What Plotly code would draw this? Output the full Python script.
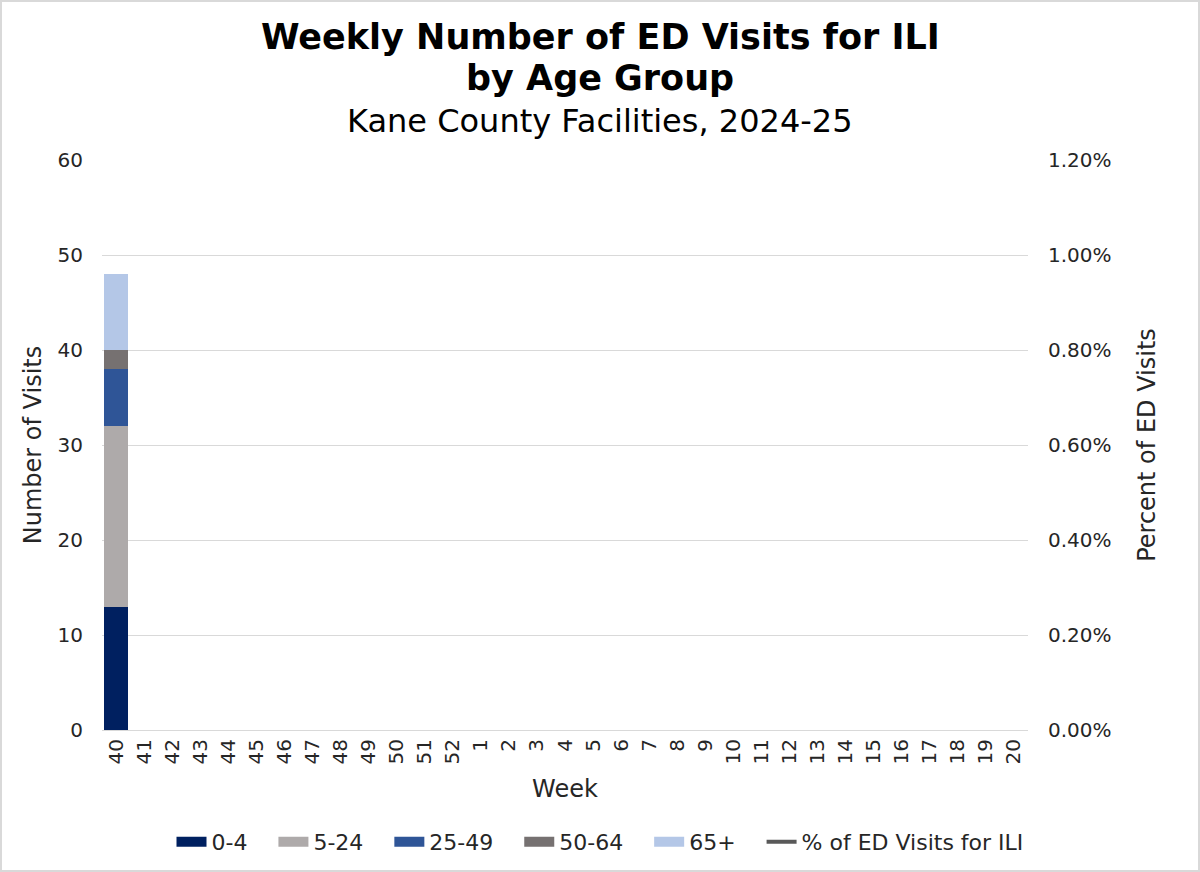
import plotly.graph_objects as go

weeks = ["40", "41", "42", "43", "44", "45", "46", "47", "48", "49", "50", "51", "52",
         "1", "2", "3", "4", "5", "6", "7", "8", "9", "10", "11", "12", "13", "14",
         "15", "16", "17", "18", "19", "20"]
n = len(weeks)
age_0_4 = [13] + [None] * (n - 1)
age_5_24 = [19] + [None] * (n - 1)
age_25_49 = [6] + [None] * (n - 1)
age_50_64 = [2] + [None] * (n - 1)
age_65p = [8] + [None] * (n - 1)
pct_ili = [0.0055] + [None] * (n - 1)

series = [
    ("0-4", age_0_4, "#002060"),
    ("5-24", age_5_24, "#AEAAAA"),
    ("25-49", age_25_49, "#2F5597"),
    ("50-64", age_50_64, "#767171"),
    ("65+", age_65p, "#B4C7E7"),
]

FONT = "DejaVu Sans"
PAD = "\u00a0" * 3
fig = go.Figure()
for name, vals, color in series:
    fig.add_trace(go.Bar(x=weeks, y=vals, name=name, marker_color=color,
                         marker_line_width=0, legendgroup=name, showlegend=False))
    # legend-only swatch drawn as a thick line so it is a wide rectangle
    fig.add_trace(go.Scatter(x=[None], y=[None], name=name + PAD, mode="lines",
                             line=dict(color=color, width=12),
                             legendgroup=name, showlegend=True))
fig.add_trace(go.Scatter(x=weeks, y=pct_ili, name="% of ED Visits for ILI",
                         mode="lines", line=dict(color="#595959", width=4),
                         yaxis="y2"))

L, R, T, B = 102, 172, 160, 142
PW, PH = 1200 - L - R, 872 - T - B


def py(ypx):
    return 1 + (T - ypx) / PH


fig.update_layout(
    width=1200, height=872,
    barmode="stack", bargap=0.14,
    paper_bgcolor="white", plot_bgcolor="white",
    font=dict(family=FONT, size=20, color="#262626"),
    margin=dict(l=L, r=R, t=T, b=B, autoexpand=False),
    showlegend=True,
    legend=dict(orientation="h", x=0.5, xanchor="center", xref="container",
                y=30 / 872, yref="container", yanchor="middle",
                font=dict(size=22, family=FONT, color="#262626"),
                itemwidth=30, traceorder="normal"),
    xaxis=dict(type="category", tickangle=-90, showgrid=False,
               showline=True, linecolor="#d9d9d9", linewidth=1,
               ticks="", tickfont=dict(size=20),
               title=dict(text="Week", font=dict(size=24), standoff=16)),
    yaxis=dict(range=[0, 60], dtick=10, showgrid=True, gridcolor="#d9d9d9",
               gridwidth=1, zeroline=False, ticks="", tickfont=dict(size=20),
               ticklabelstandoff=18,
               title=dict(text="Number of Visits", font=dict(size=24), standoff=9)),
    yaxis2=dict(range=[0, 0.012], dtick=0.002, tickformat=".2%", overlaying="y",
                side="right", showgrid=False, zeroline=False, ticks="",
                tickfont=dict(size=20), ticklabelstandoff=19,
                title=dict(text="Percent of ED Visits", font=dict(size=24), standoff=27)),
)

fig.add_annotation(text="<b>Weekly Number of ED Visits for ILI</b>", xref="paper",
                   yref="paper", x=0.5 + (600 - L - PW / 2) / PW, y=py(37),
                   xanchor="center", yanchor="middle", showarrow=False,
                   font=dict(family=FONT, size=35, color="black"))
fig.add_annotation(text="<b>by Age Group</b>", xref="paper",
                   yref="paper", x=0.5 + (600 - L - PW / 2) / PW, y=py(78),
                   xanchor="center", yanchor="middle", showarrow=False,
                   font=dict(family=FONT, size=35, color="black"))
fig.add_annotation(text="Kane County Facilities, 2024-25", xref="paper",
                   yref="paper", x=0.5 + (600 - L - PW / 2) / PW, y=py(121),
                   xanchor="center", yanchor="middle", showarrow=False,
                   font=dict(family=FONT, size=32, color="black"))

fig.add_shape(type="rect", xref="paper", yref="paper",
              x0=-(L - 1) / PW, x1=1 + (R - 1) / PW,
              y0=-(B - 1) / PH, y1=1 + (T - 1) / PH,
              line=dict(color="#d9d9d9", width=2), layer="below")

fig.write_html("out.html", config={"displayModeBar": False},
               post_script="document.body.style.margin='0';"
                           "document.body.style.overflow='hidden';")
